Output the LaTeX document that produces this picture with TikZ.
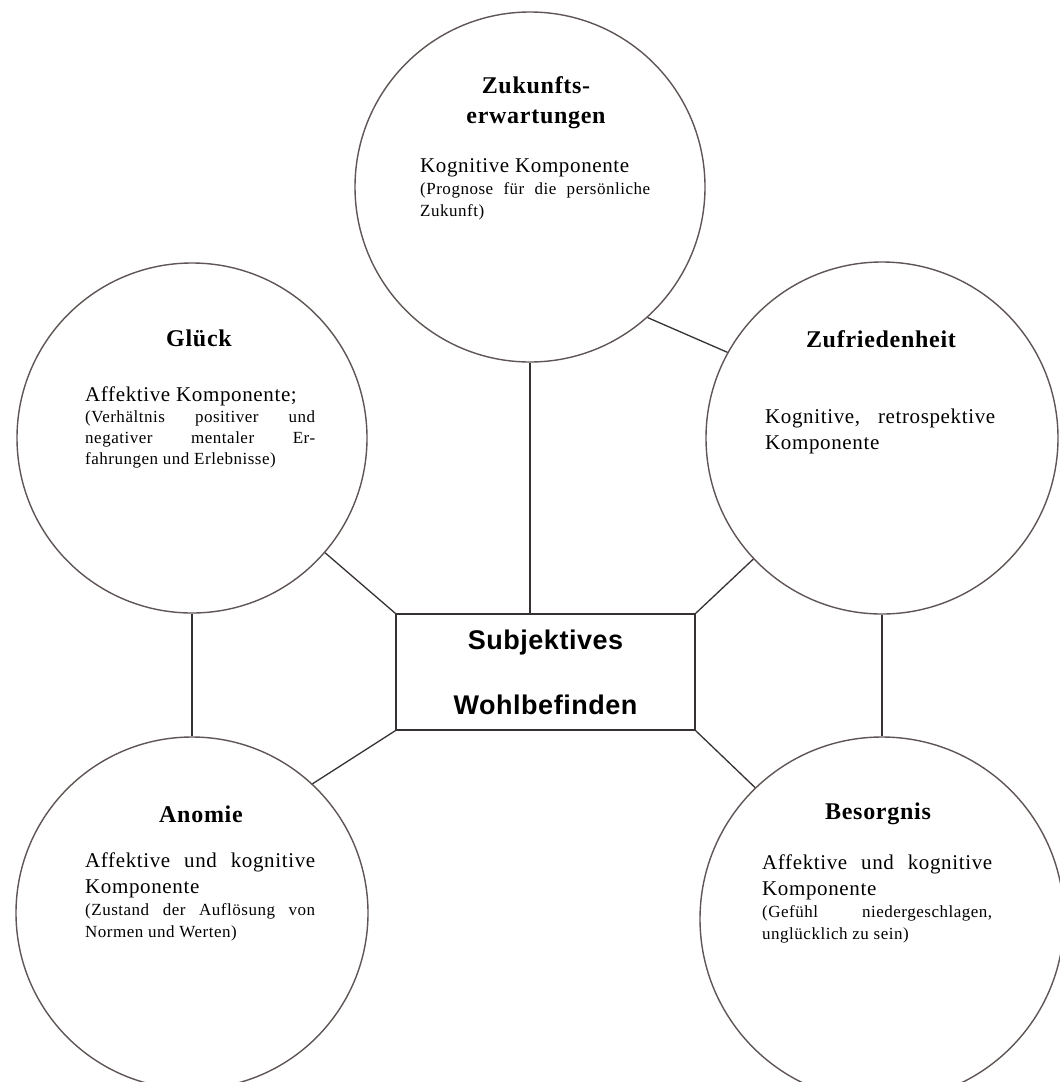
\documentclass[tikz,border=0pt]{standalone}
\usepackage{fontspec}
\setmainfont{Liberation Serif}
\newfontfamily\titlefont[LetterSpace=3]{Liberation Serif}
\newfontfamily\bodyfont[LetterSpace=3]{Liberation Serif}
\newfontfamily\boxfont[LetterSpace=2]{Liberation Sans}
\definecolor{circcol}{RGB}{95,85,85}
\definecolor{linecol}{RGB}{55,50,50}
\tikzset{
  bubble/.style={circle, draw=circcol, line width=1.4pt, inner sep=0pt, fill=white},
  ctitle/.style={font=\titlefont\bfseries\fontsize{24}{30}\selectfont, inner sep=0pt, align=center},
  cbody/.style={font=\bodyfont, inner sep=0pt, text width=230pt, align=justify, anchor=north west},
  conn/.style={draw=linecol, line width=1.3pt},
  mainbox/.style={draw=linecol, line width=1.4pt, minimum width=299pt, minimum height=116pt, inner sep=0pt, align=center,
     font=\boxfont\bfseries\fontsize{27}{65}\selectfont}
}
\newcommand{\mainsz}{\fontsize{21}{26}\selectfont}
\newcommand{\parsz}{\fontsize{17}{22}\selectfont}
\begin{document}
\begin{tikzpicture}[x=1pt,y=-1pt]
\useasboundingbox[fill=white] (0,0) rectangle (1060,1082);
% circles
\node[bubble, minimum size=350pt] (zuk) at (530,187) {};
\node[bubble, minimum size=350pt] (glu) at (192,438) {};
\node[bubble, minimum size=352pt] (zuf) at (882,438) {};
\node[bubble, minimum size=352pt] (ano) at (192,913) {};
\node[bubble, minimum size=364pt] (bes) at (882,919) {};
% central box
\node[mainbox] (box) at (545.5,672) {Subjektives\\Wohlbefinden};
% connectors
\draw[conn] (zuk.south) -- (zuk.south |- box.north);
\draw[conn] (glu) -- (box.north west);
\draw[conn] (zuf) -- (box.north east);
\draw[conn] (box.south west) -- (ano.47);
\draw[conn] (box.south east) -- (bes.134);
\draw[conn] (glu.south) -- (ano.north);
\draw[conn] (zuf.south) -- (bes.north);
\draw[conn] (zuk.-48) -- (zuf.151);
% titles
\node[ctitle] (zukT) at (536,103) {Zukunfts-\\erwartungen};
\node[ctitle] (gluT) at (199,338) {Glück};
\node[ctitle] (zufT) at (881,339) {Zufriedenheit};
\node[ctitle] (anoT) at (201,814) {Anomie};
\node[ctitle] (besT) at (878,814) {Besorgnis};
% body texts
\node[cbody] (zukB) at (420,158) {{\mainsz Kognitive Komponente\par}{\parsz (Prognose für die persönliche\linebreak Zukunft)\par}};
\node[cbody] (gluB) at (85,387) {{\mainsz Affektive Komponente;\par}{\parsz\baselineskip=21pt (Verhältnis positiver und\linebreak negativer mentaler Er-\linebreak fahrungen und Erlebnisse)\par}};
\node[cbody] (zufB) at (765,409) {{\mainsz Kognitive, retrospektive\linebreak Komponente\par}};
\node[cbody] (anoB) at (85,853) {{\mainsz Affektive und kognitive\linebreak Komponente\par}{\parsz (Zustand der Auflösung von\linebreak Normen und Werten)\par}};
\node[cbody] (besB) at (762,855) {{\mainsz Affektive und kognitive\linebreak Komponente\par}{\parsz (Gefühl niedergeschlagen,\linebreak unglücklich zu sein)\par}};
\end{tikzpicture}
\end{document}
